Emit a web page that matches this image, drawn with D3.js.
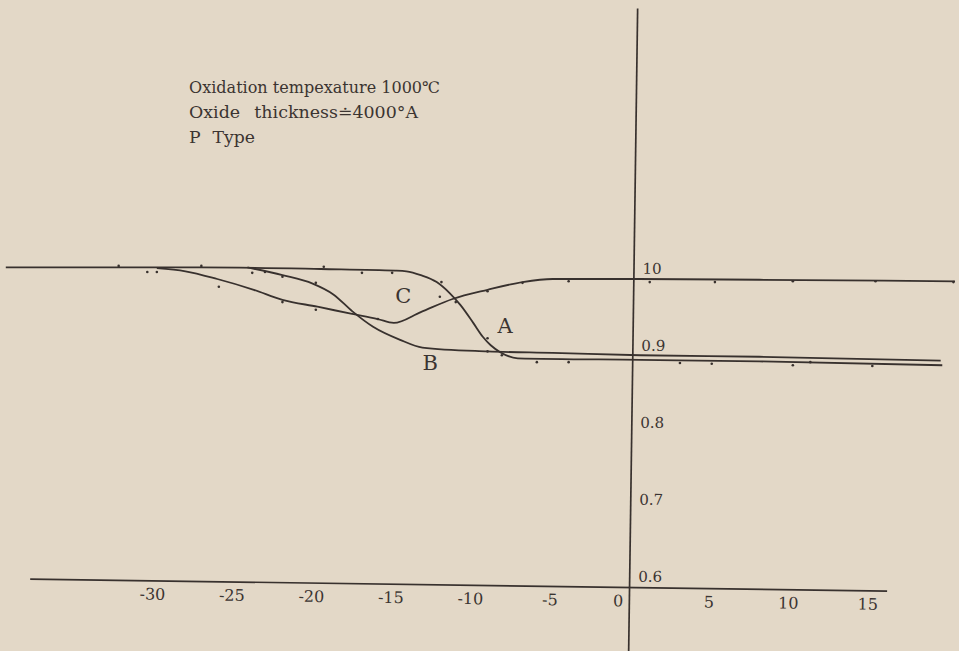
<!DOCTYPE html>
<html lang="en">
<head>
    <meta charset="UTF-8">
    <title>Oxidation curves A B C</title>
    <script src="https://d3js.org/d3.v7.min.js"></script>
    <style>
        body{ margin:0; background:#e3d8c7; }
        svg{ display:block; }
        text{ font-family: "DejaVu Serif", "Liberation Serif", serif; fill:#3b3431; }
    </style>
</head>
<body>
<svg width="959" height="651"></svg>
<script>
    // values
    const xTicks = [-30, -25, -20, -15, -10, -5, 0, 5, 10, 15];
    const yTicks = [0.6, 0.7, 0.8, 0.9, 1.0];
    const yTickLabels = ["0.6", "0.7", "0.8", "0.9", "10"];

    const aX = [-39.2, -32, -27, -19.4, -14.7, -14.0, -13.1, -12.1, -11.3, -10.6, -9.8, -9.2, -8.7, -8.1, -7.0, 0.7, 8.2, 19.7];
    const aY = [1.015, 1.015, 1.015, 1.013, 1.011, 1.010, 1.005, 0.996, 0.982, 0.966, 0.943, 0.925, 0.914, 0.905, 0.897, 0.895, 0.893, 0.888];

    const bX = [-24.0, -21.8, -19.9, -18.6, -17.4, -16.1, -14.4, -13.0, -8.9, -4.8, 0.7, 8.2, 19.6];
    const bY = [1.015, 1.005, 0.994, 0.980, 0.958, 0.938, 0.921, 0.911, 0.906, 0.904, 0.901, 0.899, 0.894];

    const cX = [-29.7, -27.9, -25.9, -23.6, -21.8, -19.6, -17.5, -15.8, -14.8, -13.1, -11.1, -8.9, -6.7, -4.8, 0.5, 8.2, 20.5];
    const cY = [1.014, 1.010, 1.000, 0.986, 0.973, 0.964, 0.955, 0.948, 0.943, 0.957, 0.974, 0.986, 0.996, 1.000, 1.000, 0.999, 0.997];

    // measured points (small dots along the curves)
    const dotX = [-32.1, -30.3, -29.7, -26.9, -25.8, -23.7, -22.9, -21.8, -21.8, -19.7, -19.7, -19.2, -16.8, -14.9, -15.8, -11.8, -11.9, -10.9, -8.9, -6.7, -3.8, -8.9, -8.9, -8.0, -5.8, -3.8, 1.3, 5.4, 10.3, 15.5, 20.4, 3.2, 5.2, 10.3, 11.4, 15.3];
    const dotY = [1.017, 1.009, 1.009, 1.017, 0.990, 1.008, 1.009, 1.003, 0.970, 0.995, 0.960, 1.016, 1.008, 1.008, 0.948, 0.996, 0.977, 0.970, 0.984, 0.995, 0.997, 0.923, 0.906, 0.901, 0.892, 0.892, 0.996, 0.996, 0.997, 0.997, 0.996, 0.891, 0.890, 0.888, 0.892, 0.887];

    const curveNames = ["A", "B", "C"];
    const nameX = [-7.8, -12.5, -14.2];
    const nameY = [0.940, 0.892, 0.978];

    const notes = ["Oxidation tempexature 1000\u2103", "Oxide thickness\u22504000\u00b0A", "P Type"];
    const noteWidths = [251, 229, 66];
    const noteGaps = [0, 8, 6];

    const ink = "#38312e";
    const svg = d3.select("svg");

    const x = d3.scaleLinear().domain([-39.25, 20.5]).range([5, 955]);
    const y = d3.scaleLinear().domain([0.6, 1.0]).range([587, 279]);

    //------------------------------------
    // axes (the printed axes are slightly skewed)
    const axes = svg.append("g")
        .attr("transform", `rotate(0.8, ${x(0)}, ${y(0.6)})`);

    const xa = x.copy().domain([-37.7, 16.2]).range([x(-37.7), x(16.2)]);
    const gx = axes.append("g")
        .attr("transform", `translate(0,${y(0.6)})`)
        .call(d3.axisBottom(xa).tickValues(xTicks).tickSize(0).tickPadding(8)
            .tickFormat(d => d3.format("d")(d).replace("\u2212", "-")));
    gx.select(".domain").attr("stroke", ink).attr("stroke-width", 1.7);
    gx.selectAll("text").attr("font-size", 16).attr("font-family", "Liberation Serif").attr("fill", ink);
    gx.selectAll(".tick").filter(d => d === 0).select("text")
        .attr("text-anchor", "end").attr("x", -6);

    const ya = y.copy().domain([0.517, 1.352]).range([y(0.517), y(1.352)]);
    const gy = axes.append("g")
        .attr("transform", `translate(${x(0)},0)`)
        .call(d3.axisRight(ya).tickValues(yTicks).tickSize(0).tickPadding(9)
            .tickFormat((d, i) => yTickLabels[i]));
    gy.select(".domain").attr("stroke", ink).attr("stroke-width", 1.7);
    gy.selectAll("text").attr("font-size", 15).attr("fill", ink).attr("dy", "-0.4em");

    //------------------------------------
    // curves
    const line = d3.line().curve(d3.curveMonotoneX).x(d => x(d[0])).y(d => y(d[1]));
    const series = [d3.zip(aX, aY), d3.zip(bX, bY), d3.zip(cX, cY)];
    svg.selectAll("path.curve")
        .data(series).enter().append("path")
        .attr("class", "curve")
        .attr("d", line)
        .attr("fill", "none")
        .attr("stroke", ink)
        .attr("stroke-width", 1.8)
        .attr("stroke-linejoin", "round");

    svg.selectAll("circle.dot")
        .data(d3.zip(dotX, dotY)).enter().append("circle")
        .attr("class", "dot")
        .attr("cx", d => x(d[0]))
        .attr("cy", d => y(d[1]))
        .attr("r", 1.3)
        .attr("fill", ink);

    svg.selectAll("text.name")
        .data(curveNames).enter().append("text")
        .attr("class", "name")
        .attr("x", (d, i) => x(nameX[i]))
        .attr("y", (d, i) => y(nameY[i]))
        .attr("dy", "0.35em")
        .attr("text-anchor", "middle")
        .attr("font-family", "Liberation Serif")
        .attr("font-size", 21)
        .text(d => d);

    //------------------------------------
    // notes top left
    svg.selectAll("text.note")
        .data(notes).enter().append("text")
        .attr("class", "note")
        .attr("x", 189)
        .attr("y", (d, i) => 93 + i * 25)
        .attr("font-size", 16)
        .attr("word-spacing", (d, i) => noteGaps[i])
        .attr("textLength", (d, i) => noteWidths[i])
        .attr("lengthAdjust", "spacingAndGlyphs")
        .text(d => d);
</script>
</body>
</html>
